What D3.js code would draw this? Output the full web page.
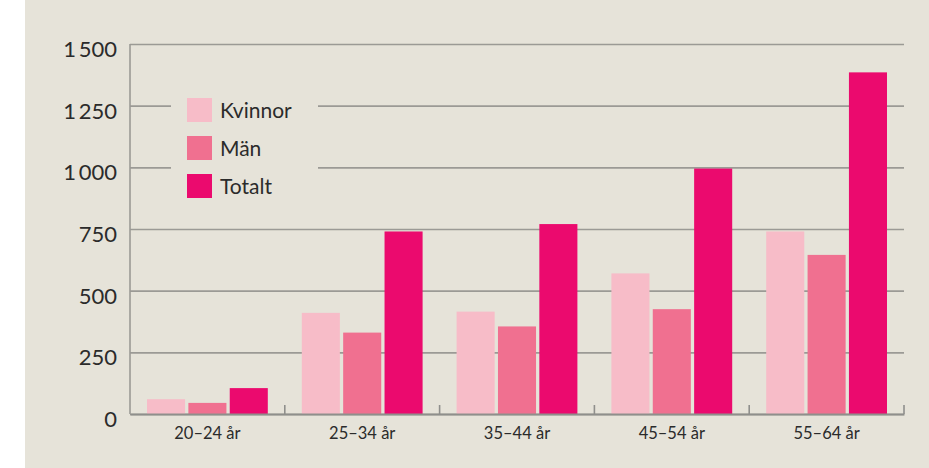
<!DOCTYPE html>
<html lang="sv">
<head>
<meta charset="utf-8">
<script src="https://cdn.jsdelivr.net/npm/d3@7"></script>
<style>
  html, body { margin: 0; padding: 0; background: #ffffff; }
  svg { display: block; }
  text { font-family: Lato, "Noto Sans", sans-serif; fill: #2b2b2b; }
</style>
</head>
<body>
<svg id="chart" width="929" height="468"></svg>
<script>
// Antal per åldersgrupp
const categories = ["20–24 år", "25–34 år", "35–44 år", "45–54 år", "55–64 år"];
const series = ["Kvinnor", "Män", "Totalt"];
const kvinnor = [60, 410, 415, 570, 740];
const man = [45, 330, 355, 425, 645];
const totalt = [105, 740, 770, 995, 1385];
const yTicks = [0, 250, 500, 750, 1000, 1250, 1500];
const colors = ["#f7bcc8", "#f07090", "#eb0a6e"];

const valuesBySeries = [kvinnor, man, totalt];
const rows = categories.map((c, i) => ({
  category: c,
  values: series.map((s, j) => ({ key: s, value: valuesBySeries[j][i] }))
}));

const W = 929, H = 468;
const plotLeft = 130, plotRight = 904, plotTop = 44, plotBottom = 414;

const svg = d3.select("#chart");

// background panel
svg.append("rect").attr("x", 25).attr("y", 0).attr("width", W - 25).attr("height", H).attr("fill", "#e6e3d9");

const x0 = d3.scaleBand().domain(categories).range([plotLeft, plotRight]).padding(0);
const x1 = d3.scaleBand().domain(series).range([17, x0.bandwidth() - 17]).paddingInner(0.08).paddingOuter(0);
const y = d3.scaleLinear().domain([0, 1500]).range([plotBottom, plotTop]);
const color = d3.scaleOrdinal().domain(series).range(colors);

const sv = d3.formatLocale({ decimal: ",", thousands: "\u2009", grouping: [3], currency: ["", " kr"] });
const fmt = sv.format(",d");

// horizontal grid + y labels
const yAxis = d3.axisLeft(y)
  .tickValues(yTicks)
  .tickFormat(fmt)
  .tickSizeInner(-(plotRight - plotLeft))
  .tickSizeOuter(0)
  .tickPadding(13);

const gy = svg.append("g").attr("transform", `translate(${plotLeft},0)`).call(yAxis);
gy.select(".domain").remove();
gy.selectAll(".tick line").attr("stroke", "#9b9a95").attr("stroke-width", 1.6);
gy.selectAll(".tick text")
  .attr("dy", "12.5px")
  .attr("font-size", 22)
  .attr("fill", "#2b2b2b")
  .style("font-family", "Lato, 'Noto Sans', sans-serif");

// y axis line
svg.append("line")
  .attr("x1", plotLeft).attr("x2", plotLeft)
  .attr("y1", y(1500)).attr("y2", y(0))
  .attr("stroke", "#9b9a95").attr("stroke-width", 1.6);

// legend (panel hides the grid behind it)
const legend = svg.append("g");
legend.append("rect")
  .attr("x", 171).attr("y", 82).attr("width", 147).attr("height", 128)
  .attr("fill", "#e6e3d9");
series.forEach((s, i) => {
  const ly = 98 + i * 38;
  legend.append("rect")
    .attr("x", 187).attr("y", ly).attr("width", 25).attr("height", 24)
    .attr("fill", color(s));
  legend.append("text")
    .attr("x", 220).attr("y", ly + 20)
    .attr("font-size", 21)
    .text(s);
});

// bars
const groups = svg.append("g").selectAll("g")
  .data(rows)
  .join("g")
  .attr("transform", d => `translate(${x0(d.category)},0)`);

groups.selectAll("rect")
  .data(d => d.values)
  .join("rect")
  .attr("x", d => x1(d.key))
  .attr("width", x1.bandwidth())
  .attr("y", d => y(d.value))
  .attr("height", d => y(0) - y(d.value))
  .attr("fill", d => color(d.key));

// x axis
const xAxis = d3.axisBottom(x0).tickSize(0).tickPadding(12);
const gx = svg.append("g").attr("transform", `translate(0,${plotBottom})`).call(xAxis);
gx.select(".domain").attr("stroke", "#8f8f8c").attr("stroke-width", 2.2);
gx.selectAll(".tick text")
  .attr("font-size", 16.5)
  .attr("fill", "#2b2b2b")
  .attr("dy", "0.78em")
  .style("font-family", "Lato, 'Noto Sans', sans-serif");

// separators between groups
svg.append("g").selectAll("line")
  .data(categories)
  .join("line")
  .attr("x1", d => x0(d) + x0.bandwidth())
  .attr("x2", d => x0(d) + x0.bandwidth())
  .attr("y1", plotBottom - 9).attr("y2", plotBottom)
  .attr("stroke", "#8f8f8c").attr("stroke-width", 1.6);
</script>
</body>
</html>
